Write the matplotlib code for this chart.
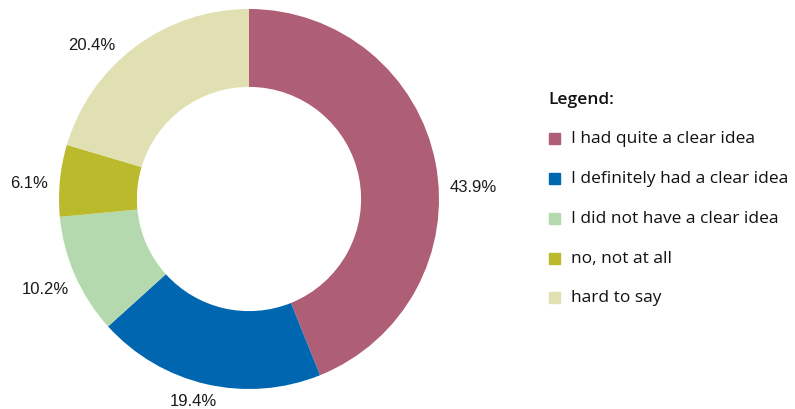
import numpy as np
import matplotlib.pyplot as plt
from matplotlib.patches import Rectangle

labels = ['I had quite a clear idea', 'I definitely had a clear idea',
          'I did not have a clear idea', 'no, not at all', 'hard to say']
shares = [43.9, 19.4, 10.2, 6.1, 20.4]
colors = ['#AE5E75', '#0066B0', '#B5D9AE', '#BBBA2C', '#E0E0B2']

# nudges for the percentage labels: (degrees from wedge middle, radius)
label_nudge = [(-7.7, 1.18), (-2.4, 1.10), (0.0, 1.17), (1.2, 1.16), (8.7, 1.16)]

W, H = 795, 410
fig = plt.figure(figsize=(W / 100, H / 100), dpi=100)

# donut: centre at (249, 200) px, outer radius 190 px
cx, cy, R = 249, 200, 190
half = 200
ax = fig.add_axes([(cx - half) / W, (H - cy - half) / H, 2 * half / W, 2 * half / H])
wedges, texts, autotexts = ax.pie(
    shares, colors=colors, startangle=90, counterclock=False,
    autopct=lambda p: f'{p:.1f}%', pctdistance=1.17,
    wedgeprops=dict(width=0.41, linewidth=0),
    textprops=dict(fontsize=12, family='Liberation Sans', color='#1a1a1a'),
)
ax.set_xlim(-half / R, half / R)
ax.set_ylim(-half / R, half / R)
ax.set_aspect('equal')
ax.axis('off')
for w, t, (da, r) in zip(wedges, autotexts, label_nudge):
    mid = np.deg2rad((w.theta1 + w.theta2) / 2 + da)
    t.set_position((r * np.cos(mid), r * np.sin(mid)))
    t.set_clip_on(False)

# legend drawn by hand
fig.text(548 / W, 1 - 100 / H, 'Legend:', fontsize=12.5, family='Open Sans',
         fontweight='semibold', va='center', ha='left', color='#111111')
ys = [139, 179, 219, 259, 298]
for y, lab, col in zip(ys, labels, colors):
    s = 11
    fig.patches.append(Rectangle((549 / W, 1 - (y + s / 2) / H), s / W, s / H,
                                 transform=fig.transFigure, color=col))
    fig.text(571 / W, 1 - y / H, lab, fontsize=12.5, family='Open Sans',
             va='center', ha='left', color='#111111')

fig.savefig('out.png', dpi=100)
